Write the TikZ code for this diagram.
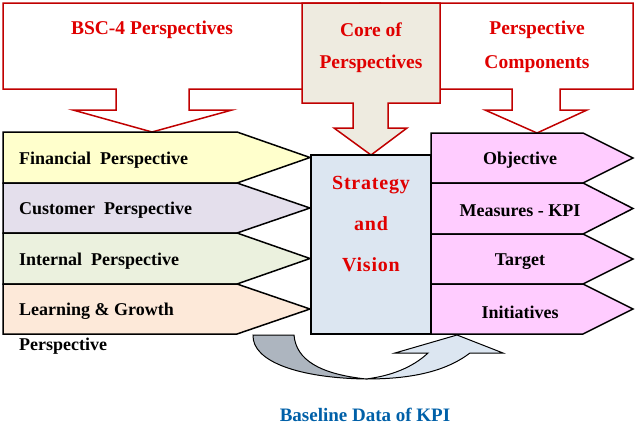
\documentclass[tikz,border=0pt]{standalone}
\usepackage{fontspec}
\setmainfont{Liberation Serif}
\newfontfamily\spacedfont[LetterSpace=4]{Liberation Serif}
\definecolor{calloutred}{HTML}{C00000}
\definecolor{titlered}{HTML}{E00000}
\definecolor{corefill}{HTML}{EEEBE0}
\definecolor{finfill}{HTML}{FFFFCC}
\definecolor{cusfill}{HTML}{E4DFEC}
\definecolor{intfill}{HTML}{EBF1DE}
\definecolor{lrnfill}{HTML}{FDE9D9}
\definecolor{boxblue}{HTML}{DCE6F1}
\definecolor{pinkfill}{HTML}{FFCCFF}
\definecolor{grayband}{HTML}{ADB5BF}
\definecolor{baseblue}{HTML}{0060A8}
\tikzset{
  callout/.style={draw=calloutred, line width=1.5pt, line join=miter},
  blackshape/.style={draw=black, line width=1.5pt, line join=miter},
  headtext/.style={text=titlered, font=\fontsize{19.5}{22}\selectfont\bfseries, inner sep=0pt},
  rowtext/.style={text=black, font=\fontsize{18}{20}\selectfont\bfseries, inner sep=0pt},
  coretext/.style={text=titlered, font=\fontsize{20}{22}\selectfont\bfseries\spacedfont, inner sep=0pt},
}
\begin{document}
\begin{tikzpicture}[x=1pt,y=-1pt]
\useasboundingbox (0,0) rectangle (636,442);
% callouts
\path[callout, fill=white] (3,3) -- (380,3) -- (380,89) -- (189,89) -- (189,110) -- (232,110) -- (152,132) -- (73,110) -- (116,110) -- (116,89) -- (3,89) -- cycle;
\path[callout, fill=white] (633,3) -- (360,3) -- (360,89) -- (512,89) -- (512,110) -- (485,110) -- (537,133) -- (587,110) -- (560,110) -- (560,89) -- (633,89) -- cycle;
\path[callout, fill=corefill] (302,3) -- (440,3) -- (440,103) -- (388,103) -- (388,128) -- (407,128) -- (371,155) -- (334,128) -- (353,128) -- (353,103) -- (302,103) -- cycle;
\node[headtext] (bsc) at (152,30) {BSC-4 Perspectives};
\node[headtext] (core1) at (371,30) {Core of};
\node[headtext] (core2) at (371,64) {Perspectives};
\node[headtext] (comp1) at (537,30) {Perspective};
\node[headtext] (comp2) at (537,64) {Components};
% left arrows
\path[blackshape, fill=finfill] (3,132) -- (237,132) -- (310,157.5) -- (237,183) -- (3,183) -- cycle;
\path[blackshape, fill=cusfill] (3,183) -- (237,183) -- (310,208) -- (237,233) -- (3,233) -- cycle;
\path[blackshape, fill=intfill] (3,233) -- (237,233) -- (310,258.5) -- (237,284) -- (3,284) -- cycle;
\path[blackshape, fill=lrnfill] (3,284) -- (237,284) -- (310,309) -- (237,334) -- (3,334) -- cycle;
\node[rowtext, anchor=west] (fin) at (19,160) {Financial\ \ Perspective};
\node[rowtext, anchor=west] (cus) at (19,210) {Customer\ \ Perspective};
\node[rowtext, anchor=west] (int) at (19,261) {Internal\ \ Perspective};
\node[rowtext, anchor=west] (lrn) at (19,311) {Learning \& Growth};
\node[rowtext, anchor=west] (lrn2) at (19,346) {Perspective};
% center box
\node[blackshape, fill=boxblue, minimum width=120pt, minimum height=179pt, inner sep=0pt] (sv) at (371,244.5) {};
\node[coretext] (s1) at (371,185) {Strategy};
\node[coretext] (s2) at (371,224) {and};
\node[coretext] (s3) at (371,265) {Vision};
% right arrows
\path[blackshape, fill=pinkfill] (431,133) -- (583,133) -- (633,158) -- (583,183) -- (431,183) -- cycle;
\path[blackshape, fill=pinkfill] (431,183) -- (583,183) -- (633,208.5) -- (583,234) -- (431,234) -- cycle;
\path[blackshape, fill=pinkfill] (431,234) -- (583,234) -- (633,259) -- (583,284) -- (431,284) -- cycle;
\path[blackshape, fill=pinkfill] (431,284) -- (583,284) -- (633,309) -- (583,334) -- (431,334) -- cycle;
\node[rowtext] (obj) at (520,160) {Objective};
\node[rowtext] (mea) at (520,211) {Measures - KPI};
\node[rowtext] (tar) at (520,262) {Target};
\node[rowtext] (ini) at (520,312) {Initiatives};
% U-turn arrow
\path[draw=black, line width=1pt, fill=grayband] (253,335) .. controls (252,362) and (300,378) .. (366,379) .. controls (320,374) and (296,360) .. (294,335) -- cycle;
\path[draw=black, line width=1pt, fill=boxblue] (366,379) .. controls (410,379) and (445,372) .. (470,353) -- (503,353) -- (457,335) -- (395,353) -- (428,353) .. controls (412,368) and (390,376) .. (366,379) -- cycle;
\node[text=baseblue, font=\fontsize{19}{22}\selectfont\bfseries, inner sep=0pt] (base) at (365,415) {Baseline Data of KPI};
\end{tikzpicture}
\end{document}
